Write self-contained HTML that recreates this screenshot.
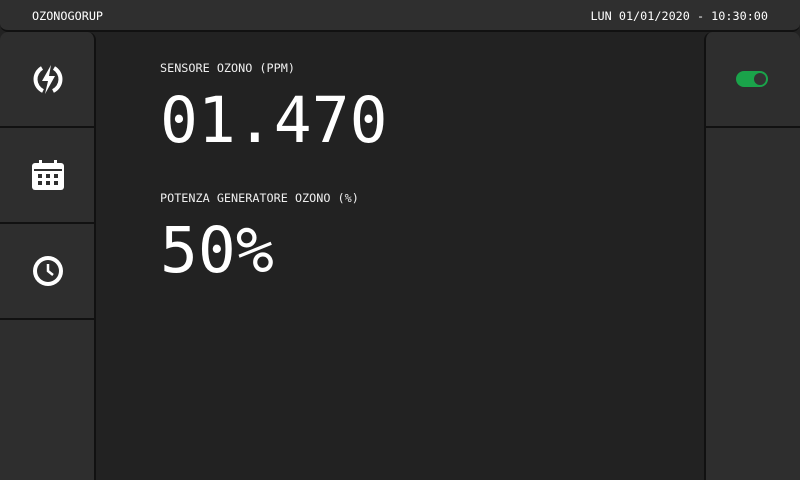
<!DOCTYPE html>
<html><head><meta charset="utf-8"><style>
*{margin:0;padding:0;box-sizing:border-box}
body{width:800px;height:480px;background:#222;overflow:hidden;position:relative;font-family:"DejaVu Sans Mono","Liberation Mono",monospace;color:#fff}
.hdr{position:absolute;left:0;top:0;width:800px;height:32px;background:#2f2f2f;border-bottom:2px solid #111;border-radius:0 0 8px 8px;font-size:11.8px}
.side{position:absolute;top:32px;height:448px;background:#2e2e2e}
.btn{position:absolute;left:0;width:95px;height:96px;border-bottom:2px solid #111;display:flex;align-items:center;justify-content:center}
.lbl{position:absolute;left:160px;font-size:11.8px;color:#eee}
.big{position:absolute;left:160px;font-size:63px;line-height:1}
</style></head><body>
<div class="hdr">
<span style="position:absolute;left:32px;top:9px">OZONOGORUP</span>
<span style="position:absolute;right:32px;top:9px">LUN 01/01/2020 - 10:30:00</span>
</div>
<div class="side" style="left:0;width:96px;border-right:2px solid #111;border-radius:8px 8px 0 0">
<div class="btn" style="top:0">
<svg width="30" height="32" viewBox="0 0 30 32"><path d="M9 5 A13 13 0 0 0 10 28" stroke="#fff" stroke-width="4" fill="none"/><path d="M21 5 A13 13 0 0 1 20 28" stroke="#fff" stroke-width="4" fill="none"/><path d="M18 2 L9 18 L15 18 L12 31 L22 13 L16 13 Z" fill="#fff"/></svg></div>
<div class="btn" style="top:96px">
<svg width="32" height="30" viewBox="0 0 32 30"><rect x="0" y="3" width="32" height="27" rx="3" fill="#fff"/><rect x="2" y="9" width="28" height="2" fill="#2e2e2e"/><rect x="7" y="0" width="3" height="6" fill="#fff"/><rect x="22" y="0" width="3" height="6" fill="#fff"/><g fill="#2e2e2e"><rect x="6" y="14" width="4" height="4"/><rect x="14" y="14" width="4" height="4"/><rect x="22" y="14" width="4" height="4"/><rect x="6" y="21" width="4" height="4"/><rect x="14" y="21" width="4" height="4"/><rect x="22" y="21" width="4" height="4"/></g></svg></div>
<div class="btn" style="top:192px">
<svg width="32" height="32" viewBox="0 0 32 32"><circle cx="16" cy="16" r="15" fill="#fff"/><circle cx="16" cy="16" r="11" fill="#2e2e2e"/><path d="M16 9 V16 L21 20" stroke="#fff" stroke-width="2.5" fill="none"/></svg></div>
</div>
<div class="side" style="left:704px;width:96px;border-left:2px solid #111;border-radius:8px 8px 0 0">
<div class="btn" style="top:0;padding-right:4px">
<svg width="32" height="18" viewBox="0 0 32 18"><rect x="0" y="1" width="32" height="16" rx="8" fill="#1aa34a"/><circle cx="24" cy="9" r="6" fill="#333"/></svg></div>
</div>
<div class="lbl" style="top:61px">SENSORE OZONO (PPM)</div>
<div class="big" style="top:89px">01.470</div>
<div class="lbl" style="top:191px">POTENZA GENERATORE OZONO (%)</div>
<div class="big" style="top:219px">50%</div>
</body></html>
